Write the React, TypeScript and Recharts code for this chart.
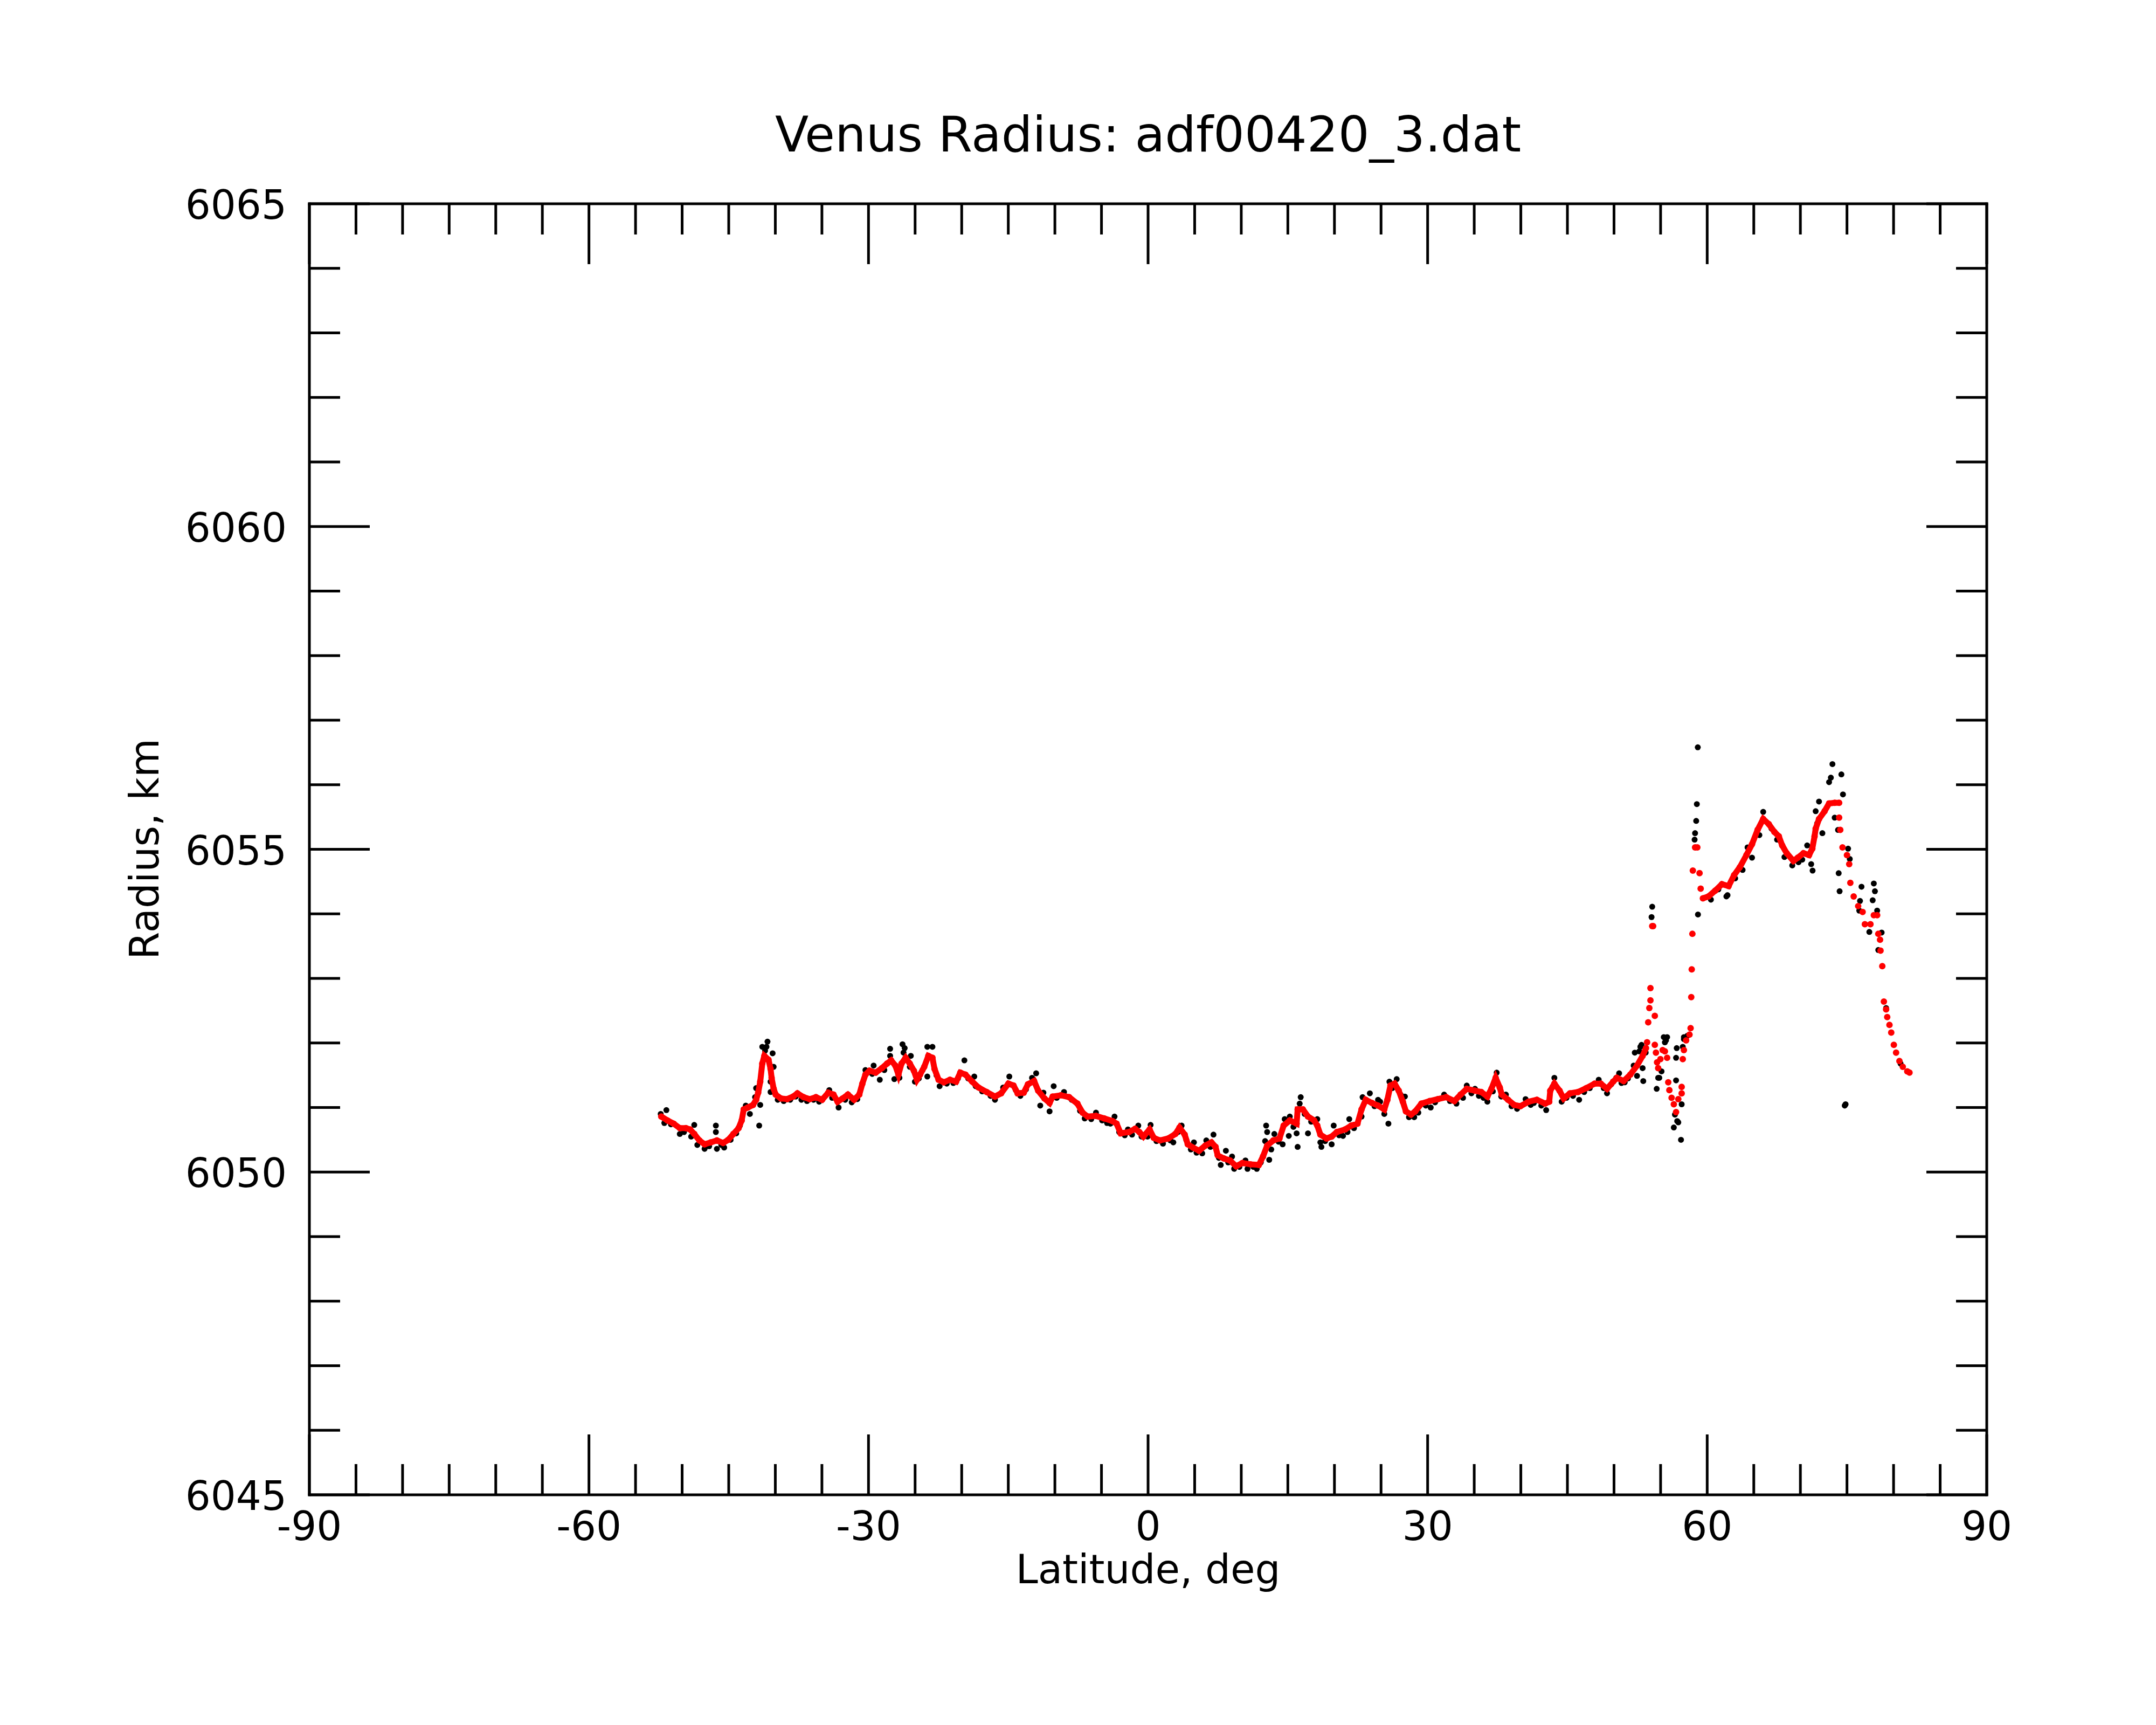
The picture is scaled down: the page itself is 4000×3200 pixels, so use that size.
import React from 'react';
import { ScatterChart, Scatter, XAxis, YAxis } from 'recharts';

const FONT = '"DejaVu Sans", "Liberation Sans", sans-serif';

// Title and axis titles
const titleText = 'Venus Radius: adf00420_3.dat';
const xTitle = 'Latitude, deg';
const yTitle = 'Radius, km';

// Ticks
const xTicks = [-90, -85, -80, -75, -70, -65, -60, -55, -50, -45, -40, -35, -30, -25, -20, -15, -10, -5, 0, 5, 10, 15, 20, 25, 30, 35, 40, 45, 50, 55, 60, 65, 70, 75, 80, 85, 90];
const xMajor = [-90, -60, -30, 0, 30, 60, 90];
const yTicks = [6045, 6046, 6047, 6048, 6049, 6050, 6051, 6052, 6053, 6054, 6055, 6056, 6057, 6058, 6059, 6060, 6061, 6062, 6063, 6064, 6065];
const yMajor = [6045, 6050, 6055, 6060, 6065];

// Smoothed radius (red), continuous southern segment [lat, radius]
const redSouth: [number, number][] = [
  [-52.24, 6050.86], [-51.58, 6050.8], [-50.91, 6050.75], [-50.25, 6050.68], [-49.59, 6050.68], [-49.14, 6050.66],
  [-48.7, 6050.59], [-48.15, 6050.49], [-47.59, 6050.43], [-46.93, 6050.46], [-46.27, 6050.49], [-45.6, 6050.45],
  [-45.05, 6050.5], [-44.5, 6050.59], [-43.94, 6050.68], [-43.61, 6050.8], [-43.39, 6050.97], [-42.95, 6051.0],
  [-42.39, 6051.04], [-42.06, 6051.12], [-41.84, 6051.23], [-41.62, 6051.4], [-41.4, 6051.68], [-41.18, 6051.8],
  [-40.73, 6051.74], [-40.51, 6051.6], [-40.4, 6051.46], [-40.18, 6051.29], [-39.96, 6051.2], [-39.4, 6051.14],
  [-38.74, 6051.13], [-38.08, 6051.17], [-37.63, 6051.22], [-36.97, 6051.16], [-36.31, 6051.13], [-35.64, 6051.16],
  [-34.98, 6051.12], [-34.32, 6051.23], [-33.76, 6051.2], [-33.32, 6051.09], [-32.77, 6051.14], [-32.21, 6051.2],
  [-31.55, 6051.12], [-30.99, 6051.2], [-30.66, 6051.37], [-30.33, 6051.51], [-29.89, 6051.57], [-29.23, 6051.54],
  [-28.56, 6051.61], [-28.01, 6051.68], [-27.57, 6051.73], [-27.12, 6051.65], [-26.79, 6051.51], [-26.46, 6051.68],
  [-26.02, 6051.77], [-25.57, 6051.68], [-25.13, 6051.57], [-24.8, 6051.43], [-24.47, 6051.51], [-24.02, 6051.63],
  [-23.58, 6051.8], [-23.14, 6051.77], [-22.92, 6051.6], [-22.48, 6051.43], [-21.92, 6051.39], [-21.26, 6051.43],
  [-20.6, 6051.4], [-20.15, 6051.54], [-19.6, 6051.51], [-18.87, 6051.4], [-18.2, 6051.31], [-17.32, 6051.24],
  [-16.43, 6051.17], [-15.77, 6051.22], [-14.99, 6051.37], [-14.44, 6051.34], [-14.0, 6051.22], [-13.34, 6051.23],
  [-12.89, 6051.36], [-12.23, 6051.41], [-11.79, 6051.26], [-11.12, 6051.14], [-10.57, 6051.07], [-10.24, 6051.17],
  [-9.35, 6051.19], [-8.47, 6051.16], [-7.58, 6051.06], [-7.03, 6050.92], [-6.48, 6050.86], [-5.59, 6050.87],
  [-4.71, 6050.83], [-3.82, 6050.79], [-3.38, 6050.75], [-2.94, 6050.6], [-2.05, 6050.62], [-1.39, 6050.67],
  [-0.94, 6050.62], [-0.5, 6050.55], [0.16, 6050.66], [0.61, 6050.53], [1.27, 6050.49], [2.16, 6050.52],
  [2.93, 6050.59], [3.37, 6050.69], [3.93, 6050.58], [4.26, 6050.43], [4.81, 6050.38], [5.47, 6050.33],
  [6.14, 6050.41], [6.8, 6050.46], [7.24, 6050.39], [7.47, 6050.26], [8.13, 6050.21], [8.79, 6050.18],
  [9.46, 6050.09], [10.12, 6050.14], [11.01, 6050.12], [11.89, 6050.11], [12.33, 6050.24], [12.78, 6050.41],
  [13.44, 6050.49], [14.1, 6050.52], [14.55, 6050.72], [15.21, 6050.8], [15.94, 6050.75], [16.05, 6050.97],
  [16.61, 6050.97], [17.16, 6050.86], [17.82, 6050.8], [18.16, 6050.72], [18.49, 6050.58], [19.15, 6050.52],
  [19.7, 6050.55], [20.26, 6050.62], [21.14, 6050.66], [21.81, 6050.72], [22.47, 6050.75], [22.91, 6050.97],
  [23.36, 6051.12], [24.02, 6051.07], [24.68, 6051.03], [25.35, 6050.97], [25.68, 6051.12], [26.01, 6051.34],
  [26.45, 6051.37], [26.9, 6051.26], [27.34, 6051.09], [27.67, 6050.94], [28.22, 6050.89], [28.67, 6050.94],
  [29.33, 6051.06], [30.22, 6051.1], [31.1, 6051.13], [31.99, 6051.16], [32.87, 6051.1], [33.54, 6051.2],
  [34.2, 6051.29], [35.08, 6051.26], [35.75, 6051.24], [36.41, 6051.17], [36.85, 6051.29], [37.3, 6051.46],
  [37.74, 6051.31], [37.96, 6051.2], [38.63, 6051.12], [39.29, 6051.04], [39.95, 6051.02], [40.84, 6051.09],
  [41.72, 6051.12], [42.61, 6051.06], [43.05, 6051.09], [43.16, 6051.26], [43.6, 6051.37], [44.16, 6051.26],
  [44.6, 6051.14], [45.27, 6051.22], [46.15, 6051.24], [47.03, 6051.3], [47.92, 6051.37], [48.58, 6051.37],
  [49.25, 6051.29], [49.91, 6051.4], [50.31, 6051.46], [51.03, 6051.41], [51.75, 6051.51], [52.47, 6051.65],
  [53.07, 6051.8], [53.43, 6051.92],
];

// Smoothed radius (red), scattered part 53.5–59.3
const redGap: [number, number][] = [
  [53.55, 6052.01], [53.67, 6052.32], [53.79, 6052.54], [53.91, 6052.66], [53.91, 6052.85], [54.1, 6053.81],
  [54.2, 6053.81], [54.38, 6052.42], [54.38, 6051.97], [54.5, 6051.85], [54.62, 6051.7], [54.74, 6051.61],
  [54.98, 6051.75], [55.22, 6051.89], [55.46, 6051.87], [55.7, 6051.77], [55.82, 6051.39], [55.94, 6051.27],
  [56.18, 6051.15], [56.42, 6051.05], [56.66, 6050.93], [56.9, 6051.13], [57.26, 6051.22], [57.26, 6051.32],
  [57.38, 6051.75], [57.5, 6051.89], [57.74, 6052.04], [58.1, 6052.13], [58.22, 6052.23], [58.29, 6052.71],
  [58.34, 6053.14], [58.41, 6053.69], [58.46, 6054.67], [58.7, 6055.03], [58.94, 6055.03], [59.18, 6054.63],
  [59.3, 6054.39],
];

// Smoothed radius (red), continuous northern segment
const redNorth: [number, number][] = [
  [59.54, 6054.24], [60.14, 6054.27], [60.86, 6054.36], [61.58, 6054.46], [62.3, 6054.43], [62.89, 6054.6],
  [63.49, 6054.72], [64.21, 6054.91], [64.81, 6055.08], [65.41, 6055.3], [66.01, 6055.47], [66.61, 6055.39],
  [67.21, 6055.27], [67.69, 6055.2], [68.05, 6055.06], [68.53, 6054.94], [69.25, 6054.82], [69.73, 6054.87],
  [70.33, 6054.94], [70.93, 6054.91], [71.28, 6055.01], [71.52, 6055.2], [71.64, 6055.32], [72.0, 6055.47],
  [72.6, 6055.59], [73.08, 6055.71], [73.68, 6055.72], [74.16, 6055.72],
];

// Smoothed radius (red), polar descent
const redPolar: [number, number][] = [
  [74.16, 6055.49], [74.28, 6055.3], [74.52, 6055.03], [75.0, 6054.91], [75.24, 6054.77], [75.36, 6054.48],
  [75.72, 6054.27], [76.2, 6054.12], [76.68, 6054.03], [76.92, 6053.84], [77.52, 6053.84], [77.88, 6053.98],
  [78.24, 6053.98], [78.36, 6053.69], [78.55, 6053.6], [78.6, 6053.43], [78.79, 6053.19], [78.96, 6052.64],
  [79.2, 6052.52], [79.32, 6052.4], [79.56, 6052.28], [79.75, 6052.16], [80.03, 6051.97], [80.27, 6051.85],
  [80.63, 6051.72], [80.99, 6051.63], [81.47, 6051.56], [81.71, 6051.54],
];

// Raw radius measurements (black)
const rawSouth: [number, number][] = [
  [-52.3, 6050.9], [-51.69, 6050.96], [-51.91, 6050.76], [-51.2, 6050.74], [-50.25, 6050.59], [-49.8, 6050.62],
  [-49.03, 6050.55], [-48.7, 6050.73], [-48.37, 6050.42], [-47.59, 6050.36], [-47.1, 6050.4], [-46.38, 6050.72],
  [-46.38, 6050.62], [-46.27, 6050.36], [-45.8, 6050.42], [-45.49, 6050.38], [-44.8, 6050.5], [-44.2, 6050.6],
  [-43.8, 6050.72], [-43.17, 6051.03], [-42.73, 6050.9], [-42.17, 6051.16], [-42.06, 6051.3], [-41.73, 6050.72],
  [-41.62, 6051.04], [-41.4, 6051.94], [-41.1, 6051.88], [-40.95, 6051.94], [-40.84, 6052.02], [-40.29, 6051.84],
  [-40.18, 6051.63], [-40.51, 6051.4], [-40.51, 6051.24], [-39.74, 6051.12], [-39.1, 6051.1], [-38.4, 6051.12],
  [-37.8, 6051.17], [-37.2, 6051.12], [-36.6, 6051.1], [-35.9, 6051.12], [-35.3, 6051.09], [-34.21, 6051.27],
  [-33.9, 6051.15], [-33.21, 6051.0], [-32.5, 6051.12], [-31.8, 6051.08], [-31.2, 6051.13], [-30.33, 6051.58],
  [-29.45, 6051.65], [-29.6, 6051.52], [-28.79, 6051.43], [-28.3, 6051.58], [-27.68, 6051.91], [-27.68, 6051.8],
  [-27.23, 6051.44], [-26.68, 6051.46], [-26.35, 6051.98], [-26.12, 6051.92], [-26.24, 6051.85], [-25.46, 6051.8],
  [-25.57, 6051.63], [-25.02, 6051.4], [-24.6, 6051.45], [-24.2, 6051.58], [-23.69, 6051.94], [-23.14, 6051.94],
  [-23.69, 6051.48], [-22.7, 6051.5], [-22.37, 6051.33], [-21.6, 6051.37], [-20.9, 6051.38], [-20.4, 6051.45],
  [-19.71, 6051.73], [-19.3, 6051.45], [-18.65, 6051.48], [-18.5, 6051.33], [-17.8, 6051.25], [-16.9, 6051.18],
  [-16.43, 6051.12], [-15.55, 6051.31], [-14.89, 6051.48], [-14.2, 6051.27], [-13.7, 6051.18], [-13.1, 6051.28],
  [-12.45, 6051.46], [-12.01, 6051.53], [-11.57, 6051.03], [-11.23, 6051.23], [-10.57, 6050.94], [-10.13, 6051.33],
  [-9.8, 6051.15], [-9.02, 6051.24], [-8.2, 6051.12], [-7.3, 6050.95], [-6.8, 6050.83], [-6.1, 6050.82],
  [-5.59, 6050.92], [-4.93, 6050.8], [-4.4, 6050.76], [-4.04, 6050.75], [-3.6, 6050.86], [-3.1, 6050.62],
  [-2.5, 6050.57], [-2.16, 6050.66], [-1.72, 6050.58], [-1.05, 6050.72], [-0.7, 6050.55], [-0.06, 6050.55],
  [0.27, 6050.73], [0.9, 6050.48], [1.6, 6050.44], [2.4, 6050.49], [2.71, 6050.46], [3.2, 6050.62],
  [3.6, 6050.72], [4.1, 6050.5], [4.59, 6050.35], [4.92, 6050.46], [5.2, 6050.3], [5.81, 6050.29],
  [6.25, 6050.49], [6.69, 6050.39], [6.91, 6050.43], [7.02, 6050.58], [7.6, 6050.22], [7.8, 6050.11],
  [8.35, 6050.33], [8.6, 6050.15], [9.01, 6050.24], [9.24, 6050.05], [9.8, 6050.08], [10.45, 6050.18],
  [10.67, 6050.05], [11.3, 6050.08], [11.67, 6050.05], [12.1, 6050.15], [12.56, 6050.48], [12.67, 6050.72],
  [12.78, 6050.62], [13.0, 6050.19], [13.22, 6050.35], [13.55, 6050.59], [14.0, 6050.47], [14.44, 6050.43],
  [14.66, 6050.82], [15.1, 6050.56], [15.21, 6050.86],
];

const rawMid: [number, number][] = [
  [15.6, 6050.7], [15.94, 6050.6], [16.05, 6050.39], [16.27, 6051.06], [16.38, 6051.16], [16.8, 6050.9],
  [17.16, 6050.6], [17.5, 6050.78], [18.16, 6050.82], [18.49, 6050.46], [18.6, 6050.39], [19.0, 6050.48],
  [19.7, 6050.43], [19.92, 6050.72], [20.5, 6050.57], [20.92, 6050.56], [21.4, 6050.62], [21.59, 6050.82],
  [22.1, 6050.68], [22.91, 6050.86], [23.02, 6051.16], [23.8, 6051.22], [24.3, 6051.02], [24.68, 6051.12],
  [24.9, 6051.09], [25.35, 6050.9], [25.79, 6050.75], [25.9, 6051.4], [26.2, 6051.3], [26.68, 6051.44],
  [27.1, 6051.2], [27.56, 6051.17], [28.0, 6050.85], [28.56, 6050.85], [29.0, 6050.92], [29.8, 6051.03],
  [30.33, 6051.0], [30.8, 6051.08], [31.77, 6051.2], [32.4, 6051.1], [33.09, 6051.06], [33.8, 6051.15],
  [34.2, 6051.34], [34.7, 6051.22], [35.08, 6051.29], [35.5, 6051.18], [36.0, 6051.15], [36.41, 6051.09],
  [37.0, 6051.25], [37.41, 6051.54], [37.9, 6051.17], [38.4, 6051.2], [39.0, 6051.02], [39.6, 6050.98],
  [40.51, 6051.13], [41.06, 6051.04], [41.4, 6051.07], [42.2, 6051.03], [42.72, 6050.96], [43.4, 6051.32],
  [43.6, 6051.46], [44.38, 6051.09], [44.9, 6051.15], [45.6, 6051.18], [46.26, 6051.12], [46.8, 6051.24],
  [47.4, 6051.3], [48.36, 6051.43], [48.9, 6051.3], [49.25, 6051.22], [49.7, 6051.36], [50.24, 6051.46],
];

const rawNorth: [number, number][] = [
  [50.55, 6051.53], [50.8, 6051.38], [51.15, 6051.39], [51.5, 6051.45], [52.11, 6051.65], [52.23, 6051.85],
  [52.47, 6051.49], [52.71, 6051.87], [52.83, 6051.94], [52.95, 6051.97], [53.07, 6051.61], [53.14, 6051.41],
  [53.4, 6051.85], [54.03, 6053.95], [54.1, 6054.11], [54.58, 6051.29], [54.74, 6051.46], [54.86, 6051.46],
  [55.1, 6051.56], [55.34, 6052.09], [55.46, 6052.01], [55.58, 6052.04], [55.7, 6052.09], [56.42, 6050.69],
  [56.54, 6050.89], [56.66, 6051.42], [56.66, 6051.77], [56.73, 6051.92], [56.78, 6050.79], [56.9, 6050.77],
  [57.19, 6050.5], [57.26, 6051.05], [57.38, 6051.94], [57.5, 6052.06], [57.5, 6052.09], [57.86, 6052.11],
  [58.65, 6055.15], [58.7, 6055.25], [58.75, 6055.03], [58.82, 6055.44], [58.89, 6055.7], [58.99, 6056.58],
  [59.01, 6053.99], [60.4, 6054.22], [61.2, 6054.38], [62.06, 6054.27], [62.18, 6054.29], [63.0, 6054.55],
  [63.8, 6054.68], [64.33, 6055.03], [64.81, 6054.87], [65.6, 6055.22], [66.01, 6055.58], [66.9, 6055.32],
  [67.5, 6055.15], [68.29, 6054.88], [69.13, 6054.75], [69.8, 6054.8], [70.2, 6054.84], [70.73, 6055.06],
  [71.16, 6054.77], [71.31, 6054.67], [71.64, 6055.59], [71.8, 6055.4], [72.0, 6055.74], [72.36, 6055.25],
  [73.08, 6056.04], [73.27, 6056.11], [73.44, 6056.32], [73.68, 6055.49], [74.04, 6055.3], [74.11, 6054.63],
  [74.21, 6054.35], [74.4, 6056.16], [74.57, 6055.85], [74.76, 6051.03], [74.85, 6051.05], [75.12, 6055.01],
  [75.3, 6054.85], [76.32, 6054.05], [76.4, 6054.2], [76.56, 6054.42], [77.4, 6053.72], [77.76, 6054.21],
  [77.88, 6054.47], [78.0, 6054.35], [78.24, 6054.05], [78.36, 6053.44], [78.72, 6053.71], [79.2, 6052.54],
  [80.75, 6051.68],
];

const toPts = (arr: [number, number][]) => arr.map(([x, y]) => ({ x, y }));

const MAJOR_LEN = 112;
const MINOR_LEN = 57;
const LW = 5;

const BottomTick = (props: any) => {
  const { x, y, payload } = props;
  const v = payload.value;
  const major = xMajor.includes(v);
  return (
    <g>
      <line x1={x} y1={y} x2={x} y2={y - (major ? MAJOR_LEN : MINOR_LEN)} stroke="#000" strokeWidth={LW} />
      {major && (
        <text x={x} y={y + 84} textAnchor="middle" fontSize={74} fontFamily={FONT} fill="#000">
          {String(v)}
        </text>
      )}
    </g>
  );
};

const TopTick = (props: any) => {
  const { x, y, payload } = props;
  const major = xMajor.includes(payload.value);
  return <line x1={x} y1={y} x2={x} y2={y + (major ? MAJOR_LEN : MINOR_LEN)} stroke="#000" strokeWidth={LW} />;
};

const LeftTick = (props: any) => {
  const { x, y, payload } = props;
  const v = payload.value;
  const major = yMajor.includes(v);
  return (
    <g>
      <line x1={x} y1={y} x2={x + (major ? MAJOR_LEN : MINOR_LEN)} y2={y} stroke="#000" strokeWidth={LW} />
      {major && (
        <text x={x - 42} y={y + 28} textAnchor="end" fontSize={74} fontFamily={FONT} fill="#000">
          {String(v)}
        </text>
      )}
    </g>
  );
};

const RightTick = (props: any) => {
  const { x, y, payload } = props;
  const major = yMajor.includes(payload.value);
  return <line x1={x} y1={y} x2={x - (major ? MAJOR_LEN : MINOR_LEN)} y2={y} stroke="#000" strokeWidth={LW} />;
};

const RedDot = (p: any) => <circle cx={p.cx} cy={p.cy} r={6} fill="#ff0000" />;
const BlackDot = (p: any) => <circle cx={p.cx} cy={p.cy} r={5.5} fill="#000000" />;

const axisLine = { stroke: '#000', strokeWidth: LW, strokeLinecap: 'square' as const };

export default function App() {
  return (
    <div style={{ position: 'absolute', left: 0, top: 0, width: 4000, height: 3200, background: '#fff' }}>
      <ScatterChart width={4000} height={3200} margin={{ top: 0, right: 0, bottom: 0, left: 0 }}>
        <XAxis
          xAxisId="bottom"
          type="number"
          dataKey="x"
          orientation="bottom"
          domain={[-90, 90]}
          allowDataOverflow
          ticks={xTicks}
          interval={0}
          height={427}
          tickSize={0}
          tickMargin={0}
          tickLine={false}
          axisLine={axisLine}
          tick={BottomTick}
        />
        <XAxis
          xAxisId="top"
          type="number"
          dataKey="x"
          orientation="top"
          domain={[-90, 90]}
          allowDataOverflow
          ticks={xTicks}
          interval={0}
          height={378}
          tickSize={0}
          tickMargin={0}
          tickLine={false}
          axisLine={axisLine}
          tick={TopTick}
        />
        <YAxis
          yAxisId="left"
          type="number"
          dataKey="y"
          orientation="left"
          domain={[6045, 6065]}
          allowDataOverflow
          ticks={yTicks}
          interval={0}
          width={574}
          tickSize={0}
          tickMargin={0}
          tickLine={false}
          axisLine={axisLine}
          tick={LeftTick}
        />
        <YAxis
          yAxisId="right"
          type="number"
          dataKey="y"
          orientation="right"
          domain={[6045, 6065]}
          allowDataOverflow
          ticks={yTicks}
          interval={0}
          width={314}
          tickSize={0}
          tickMargin={0}
          tickLine={false}
          axisLine={axisLine}
          tick={RightTick}
        />
        <Scatter xAxisId="bottom" yAxisId="left" data={toPts(rawSouth)} shape={BlackDot} isAnimationActive={false} />
        <Scatter xAxisId="bottom" yAxisId="left" data={toPts(rawMid)} shape={BlackDot} isAnimationActive={false} />
        <Scatter xAxisId="bottom" yAxisId="left" data={toPts(rawNorth)} shape={BlackDot} isAnimationActive={false} />
        <Scatter xAxisId="top" yAxisId="right" data={[]} isAnimationActive={false} />
        <Scatter
          xAxisId="bottom"
          yAxisId="left"
          data={toPts(redSouth)}
          shape={RedDot}
          line={{ stroke: '#ff0000', strokeWidth: 11 }}
          isAnimationActive={false}
        />
        <Scatter xAxisId="bottom" yAxisId="left" data={toPts(redGap)} shape={RedDot} isAnimationActive={false} />
        <Scatter
          xAxisId="bottom"
          yAxisId="left"
          data={toPts(redNorth)}
          shape={RedDot}
          line={{ stroke: '#ff0000', strokeWidth: 11 }}
          isAnimationActive={false}
        />
        <Scatter xAxisId="bottom" yAxisId="left" data={toPts(redPolar)} shape={RedDot} isAnimationActive={false} />
      </ScatterChart>
      <svg
        width={4000}
        height={3200}
        style={{ position: 'absolute', left: 0, top: 0, pointerEvents: 'none' }}
      >
        <text x={2130} y={281} textAnchor="middle" fontSize={91} fontFamily={FONT} fill="#000">
          {titleText}
        </text>
        <text x={2130} y={2937} textAnchor="middle" fontSize={74} fontFamily={FONT} fill="#000">
          {xTitle}
        </text>
        <text
          x={294}
          y={1575}
          textAnchor="middle"
          fontSize={74}
          fontFamily={FONT}
          fill="#000"
          transform="rotate(-90 294 1575)"
        >
          {yTitle}
        </text>
      </svg>
    </div>
  );
}
